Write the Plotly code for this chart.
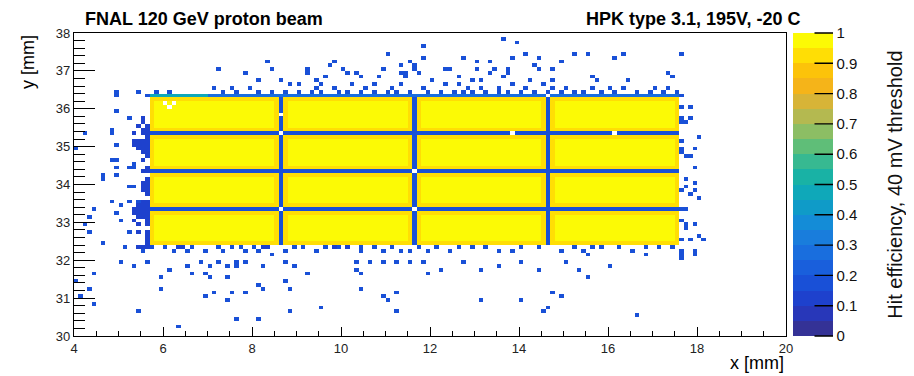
import numpy as np
import plotly.graph_objects as go

# ---------------- binning of the efficiency map (mm) ----------------
X_MIN, X_MAX, Y_MIN, Y_MAX, BIN = 4.0, 20.0, 30.0, 38.0, 0.1

# ---------------- sensor layout ----------------
pad_cols = [(5.7, 8.6), (8.7, 11.6), (11.7, 14.6), (14.7, 17.6)]
pad_rows = [(32.4, 33.3), (33.4, 34.3), (34.4, 35.3), (35.4, 36.3)]
gap_cols = [8.65, 11.65, 14.65]
gap_rows = [33.35, 34.35, 35.35]
top_edge_row = 36.35
top_edge_cyan_until = 7.0

eff_pad_interior = 0.98
eff_pad_border = 0.92
eff_gap = 0.18
eff_top_edge_cyan = 0.45
eff_top_edge = 0.28
eff_noise = 0.16
eff_dense = 0.1

# empty (white) cells inside the sensor area
empty_x = [8.65, 8.65, 8.65, 11.65, 11.65, 13.85, 14.65, 16.15, 6.15, 6.25, 6.05]
empty_y = [35.85, 35.35, 33.35, 34.35, 33.35, 35.35, 36.35, 35.35, 36.05, 36.15, 36.15]

# scattered low-efficiency cells outside the sensor (row y -> list of x)
noise_rows = {
    37.85: [13.65],
    37.75: [13.95],
    37.65: [11.85],
    37.45: [11.05, 14.15, 15.25, 15.55, 16.35, 17.65],
    37.35: [11.85, 12.75, 13.85, 14.45, 16.15],
    37.25: [8.35, 9.85, 11.55, 13.05, 13.35, 14.95],
    37.15: [9.75, 11.35, 11.65, 14.35],
    37.05: [7.25, 8.45, 9.25, 10.05, 10.95, 11.65, 12.35, 12.45, 13.05, 13.45, 13.75, 14.45, 14.75],
    36.95: [7.85, 9.25, 10.15, 10.35, 11.35, 11.45, 11.75, 13.35, 13.75, 17.35],
    36.85: [9.65, 10.45, 10.85, 11.45, 12.65, 13.65, 15.65, 17.45],
    36.75: [8.15, 8.65, 9.45, 12.05, 12.95, 13.15, 14.25, 14.75, 15.75, 16.45],
    36.65: [8.85, 9.05, 9.55, 10.25, 10.75, 11.35, 12.35, 12.65, 13.85, 14.55],
    36.55: [7.15, 7.55, 7.95, 9.45, 9.85, 10.55, 11.15, 11.85, 12.85, 13.15, 13.55, 14.15,
            14.75, 15.05, 15.65, 16.05, 16.35, 17.05, 17.35],
    36.45: [4.95, 5.45, 5.85, 6.15, 7.35, 7.65, 8.15, 8.45, 8.75, 9.05, 9.35, 9.55, 9.95, 10.15,
            10.45, 10.75, 11.05, 11.25, 11.55, 11.95, 12.25, 12.55, 12.75, 12.95, 13.25, 13.55,
            13.75, 14.05, 14.35, 14.65, 14.95, 15.25, 15.45, 15.85, 16.15, 16.65, 16.95, 17.25, 17.55],
    36.35: [4.95, 5.65, 17.65],
    36.05: [17.65, 17.85],
    35.95: [4.95],
    35.75: [5.25, 17.65, 17.85],
    35.65: [17.65, 17.75],
    35.55: [5.45],
    35.45: [4.85],
    35.35: [4.25, 4.85],
    35.25: [18.05],
    35.15: [17.65],
    35.05: [4.95],
    34.95: [4.05, 17.65, 17.95],
    34.85: [17.65],
    34.75: [17.75, 17.85],
    34.65: [4.85, 4.95],
    34.55: [5.35],
    34.45: [4.95, 5.25, 5.35, 17.95],
    34.25: [4.65, 4.95],
    34.15: [4.65, 17.75],
    34.05: [17.95],
    33.95: [5.25, 5.35, 17.75],
    33.85: [17.65, 17.95],
    33.75: [17.85],
    33.65: [18.05],
    33.55: [4.85, 5.25, 5.45],
    33.45: [5.05],
    33.35: [4.45, 17.65, 17.75],
    33.25: [4.95],
    33.15: [4.35],
    33.05: [5.05, 17.65],
    32.95: [4.25, 17.75, 17.95],
    32.85: [17.75],
    32.75: [4.35, 5.25],
    32.65: [18.05],
    32.55: [17.65, 17.85, 18.15],
    32.45: [4.65],
    32.35: [5.15, 5.75, 6.05, 6.65, 7.25, 7.55, 7.75, 8.05, 8.95, 9.15, 9.65, 9.85, 9.95, 10.45,
            10.75, 11.15, 11.75, 12.15, 12.65, 12.95, 13.25, 14.05, 14.45, 15.25, 15.65, 15.85,
            16.25, 16.85, 17.15, 17.45],
    32.25: [5.55, 6.25, 6.55, 6.95, 7.35, 7.85, 8.15, 8.75, 9.45, 10.45, 10.95, 11.35, 11.55,
            11.95, 12.45, 13.55, 13.85, 14.95, 15.45, 16.55, 17.65, 17.95],
    32.15: [8.45, 15.55, 16.85, 17.65, 17.95],
    32.05: [17.65],
    31.95: [5.05, 5.65, 6.85, 7.25, 7.65, 7.85, 8.75, 10.35, 10.65, 10.95, 11.25, 11.55, 11.85,
            12.75, 14.05, 15.05],
    31.85: [5.35, 6.55, 7.05, 7.45, 7.65, 8.25, 8.95, 13.55, 16.05],
    31.75: [6.15, 10.35, 12.25, 13.15, 14.45, 15.35],
    31.65: [4.45, 6.65, 6.95, 9.25, 10.45, 11.95],
    31.55: [5.95, 7.05, 7.45, 15.55],
    31.45: [4.05, 8.75],
    31.35: [8.15],
    31.25: [4.35, 5.95, 8.25, 8.85, 10.45],
    31.15: [7.15, 7.55, 7.85, 11.25, 14.75],
    31.05: [4.15, 6.95, 10.95, 14.95],
    30.95: [7.45, 11.05, 13.15, 14.05],
    30.85: [4.45],
    30.75: [9.55, 14.65],
    30.65: [5.45, 8.85, 11.25, 14.55],
    30.55: [16.65],
    30.45: [7.65, 8.15],
    30.25: [6.35],
}

# darker cells along the left edge of the sensor (row y -> list of x)
dense_rows = {
    35.75: [5.55], 35.65: [5.55], 35.55: [5.45, 5.65], 35.45: [5.55, 5.65],
    35.35: [5.35, 5.55, 5.65], 35.25: [5.65], 35.15: [5.35, 5.45, 5.55, 5.65],
    35.05: [5.35, 5.45, 5.55, 5.65], 34.95: [5.45, 5.55, 5.65], 34.85: [5.55, 5.65],
    34.75: [5.65], 34.65: [5.55], 34.45: [5.65], 34.35: [5.55, 5.65], 34.15: [5.65],
    34.05: [5.55, 5.65], 33.95: [5.55, 5.65], 33.85: [5.55, 5.65], 33.75: [5.65],
    33.55: [5.55, 5.65], 33.45: [5.45, 5.55, 5.65], 33.35: [5.35, 5.45, 5.55, 5.65],
    33.25: [5.35, 5.45, 5.55, 5.65], 33.15: [5.45, 5.55, 5.65], 33.05: [5.35, 5.65],
    32.95: [5.45, 5.65], 32.75: [5.45, 5.65], 32.65: [5.65], 32.55: [5.65], 32.45: [5.65],
    32.35: [5.45, 5.55, 5.65, 6.35, 6.45, 8.25, 8.35, 9.85, 10.15],
}

# ROOT-like palette, 20 contour bands (bottom -> top)
band_colors = [
    "rgb(52,50,150)", "rgb(40,55,185)", "rgb(30,65,205)", "rgb(25,80,215)", "rgb(25,95,220)",
    "rgb(25,110,222)", "rgb(25,125,220)", "rgb(20,140,215)", "rgb(15,155,200)", "rgb(15,168,185)",
    "rgb(25,178,165)", "rgb(55,185,145)", "rgb(95,190,120)", "rgb(140,190,100)", "rgb(180,185,80)",
    "rgb(215,180,55)", "rgb(245,180,25)", "rgb(252,195,10)", "rgb(255,222,5)", "rgb(252,250,5)",
]
cbar_ticks = [round(0.1 * i, 1) for i in range(11)]

# ---------------- build the histogram ----------------
nx = int(round((X_MAX - X_MIN) / BIN))
ny = int(round((Y_MAX - Y_MIN) / BIN))
xc = X_MIN + BIN * (np.arange(nx) + 0.5)
yc = Y_MIN + BIN * (np.arange(ny) + 0.5)
z = np.full((ny, nx), np.nan)


def ix(x):
    return int(round((x - X_MIN) / BIN - 0.5))


def iy(y):
    return int(round((y - Y_MIN) / BIN - 0.5))


for (x0, x1) in pad_cols:
    for (y0, y1) in pad_rows:
        i0, i1 = ix(x0 + BIN / 2), ix(x1 - BIN / 2)
        j0, j1 = iy(y0 + BIN / 2), iy(y1 - BIN / 2)
        z[j0:j1 + 1, i0:i1 + 1] = eff_pad_border
        z[j0 + 1:j1, i0 + 1:i1] = eff_pad_interior

xs0, xs1 = ix(pad_cols[0][0] + BIN / 2), ix(pad_cols[-1][1] - BIN / 2)
ys0, ys1 = iy(pad_rows[0][0] + BIN / 2), iy(pad_rows[-1][1] - BIN / 2)
for gy in gap_rows:
    z[iy(gy), xs0:xs1 + 1] = eff_gap
for gx in gap_cols:
    z[ys0:ys1 + 1, ix(gx)] = eff_gap
z[iy(top_edge_row), xs0:xs1 + 1] = eff_top_edge
z[iy(top_edge_row), xs0:ix(top_edge_cyan_until)] = eff_top_edge_cyan

for yv, xl in noise_rows.items():
    for xv in xl:
        z[iy(yv), ix(xv)] = eff_noise
for yv, xl in dense_rows.items():
    for xv in xl:
        z[iy(yv), ix(xv)] = eff_dense
for xv, yv in zip(empty_x, empty_y):
    z[iy(yv), ix(xv)] = np.nan

colorscale = []
nb = len(band_colors)
for k, c in enumerate(band_colors):
    colorscale.append([k / nb, c])
    colorscale.append([(k + 1) / nb, c])

FONT = "Liberation Sans, Arial, Helvetica, sans-serif"

# page is shown with the browser's 8 px body margin -> figure is 8 px smaller
W, H = 906, 368
ML, MR, MT, MB = 66, 128, 25, 40
plot_w = W - ML - MR

CB_X0 = 1.0 + 7 / plot_w          # colour bar left edge (paper)
CB_THICK = 40
CB_X1 = CB_X0 + CB_THICK / plot_w

fig = go.Figure(go.Heatmap(
    x=xc, y=yc, z=z, zmin=0, zmax=1, colorscale=colorscale, zsmooth=False,
    hoverongaps=False,
    colorbar=dict(
        x=CB_X0, xanchor="left", xpad=0, y=0.5, yanchor="middle", len=1, ypad=0,
        thickness=CB_THICK, outlinewidth=0,
        tickmode="array", tickvals=cbar_ticks, ticktext=[f"{v:g}" for v in cbar_ticks],
        ticks="",
        tickfont=dict(family=FONT, size=15, color="#111"),
    ),
))

# colour-bar tick marks drawn on the bar (ROOT style), as line-only annotations
cbar_tick_marks = [dict(text="", xref="paper", yref="paper", x=CB_X1, y=v,
                        showarrow=True, arrowhead=0, arrowwidth=1.4, arrowcolor="black",
                        ax=-20, ay=0, standoff=0, startstandoff=0)
                   for v in cbar_ticks]

axis_common = dict(showgrid=False, zeroline=False, showline=True, linecolor="black",
                   linewidth=1.2, mirror=True, ticks="inside", tickcolor="black",
                   tickwidth=1.2, tickfont=dict(family=FONT, size=13, color="#222"))
fig.update_xaxes(range=[X_MIN, X_MAX], tick0=4, dtick=2, ticklen=9,
                 minor=dict(dtick=0.5, ticklen=5, ticks="inside", tickcolor="black", showgrid=False),
                 **axis_common)
fig.update_yaxes(range=[Y_MIN, Y_MAX], tick0=30, dtick=1, ticklen=21,
                 minor=dict(dtick=0.2, ticklen=11, ticks="inside", tickcolor="black", showgrid=False),
                 **axis_common)

fig.update_layout(
    width=W, height=H, margin=dict(l=ML, r=MR, t=MT, b=MB),
    paper_bgcolor="white", plot_bgcolor="white",
    font=dict(family=FONT),
    annotations=cbar_tick_marks + [
        dict(text="<b>FNAL 120 GeV proton beam</b>", xref="paper", yref="paper",
             x=0.0126, y=1.046, xanchor="left", yanchor="middle", showarrow=False,
             font=dict(family=FONT, size=18, color="black")),
        dict(text="<b>HPK type 3.1, 195V, -20 C</b>", xref="paper", yref="paper",
             x=1.022, y=1.046, xanchor="right", yanchor="middle", showarrow=False,
             font=dict(family=FONT, size=18, color="black")),
        dict(text="x [mm]", xref="paper", yref="paper", x=1.0, y=-0.089,
             xanchor="right", yanchor="middle", showarrow=False,
             font=dict(family=FONT, size=18, color="black")),
        dict(text="y [mm]", xref="paper", yref="paper", x=-0.0646, y=1.0,
             xanchor="center", yanchor="top", textangle=-90, showarrow=False,
             font=dict(family=FONT, size=18, color="black")),
        dict(text="Hit efficiency, 40 mV threshold", xref="paper", yref="paper",
             x=1.152, y=0.5, xanchor="center", yanchor="middle", textangle=-90,
             showarrow=False, font=dict(family=FONT, size=20, color="#111")),
    ],
)

fig.write_html("out.html")
